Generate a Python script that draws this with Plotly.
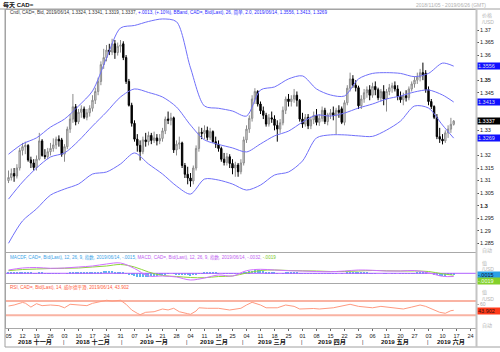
import plotly.graph_objects as go
import pandas as pd

W, H = 500, 352

# ---------------- data ----------------
dates = pd.bdate_range("2018-11-05", "2019-06-14")  # trading days (weekdays)

open_ = [1.3100, 1.3112, 1.3128, 1.3118, 1.3150, 1.3220, 1.3235, 1.3240, 1.3182, 1.3170,
         1.3152, 1.3185, 1.3258, 1.3200, 1.3195, 1.3215, 1.3228, 1.3242, 1.3265, 1.3262,
         1.3205, 1.3235, 1.3305, 1.3345, 1.3394, 1.3334, 1.3372, 1.3385, 1.3352, 1.3370,
         1.3388, 1.3420, 1.3455, 1.3495, 1.3562, 1.3590, 1.3620, 1.3612, 1.3645, 1.3610,
         1.3635, 1.3645, 1.3590, 1.3495, 1.3400, 1.3328, 1.3265, 1.3240, 1.3215, 1.3262,
         1.3255, 1.3280, 1.3260, 1.3270, 1.3258, 1.3268, 1.3298, 1.3345, 1.3340, 1.3350,
         1.3222, 1.3245, 1.3250, 1.3160, 1.3125, 1.3110, 1.3098, 1.3150, 1.3228, 1.3292,
         1.3288, 1.3300, 1.3272, 1.3295, 1.3255, 1.3245, 1.3228, 1.3185, 1.3172, 1.3195,
         1.3168, 1.3150, 1.3162, 1.3135, 1.3170, 1.3262, 1.3305, 1.3348, 1.3425, 1.3455,
         1.3405, 1.3378, 1.3360, 1.3325, 1.3350, 1.3345, 1.3320, 1.3305, 1.3330, 1.3380,
         1.3425, 1.3415, 1.3425, 1.3440, 1.3420, 1.3345, 1.3325, 1.3352, 1.3318, 1.3342,
         1.3360, 1.3332, 1.3348, 1.3380, 1.3335, 1.3362, 1.3370, 1.3358, 1.3380, 1.3386,
         1.3332, 1.3410, 1.3468, 1.3505, 1.3480, 1.3470, 1.3398, 1.3425, 1.3450, 1.3462,
         1.3440, 1.3475, 1.3462, 1.3430, 1.3455, 1.3425, 1.3455, 1.3470, 1.3478, 1.3465,
         1.3435, 1.3422, 1.3438, 1.3430, 1.3465, 1.3485, 1.3500, 1.3512, 1.3530, 1.3528,
         1.3462, 1.3415, 1.3395, 1.3352, 1.3275, 1.3265, 1.3258, 1.3290, 1.3305, 1.3324]
high = [1.3140, 1.3148, 1.3150, 1.3165, 1.3230, 1.3250, 1.3255, 1.3245, 1.3195, 1.3185,
        1.3200, 1.3290, 1.3265, 1.3225, 1.3230, 1.3250, 1.3268, 1.3275, 1.3280, 1.3270,
        1.3245, 1.3315, 1.3365, 1.3445, 1.3405, 1.3385, 1.3400, 1.3395, 1.3385, 1.3400,
        1.3440, 1.3470, 1.3510, 1.3575, 1.3625, 1.3640, 1.3645, 1.3665, 1.3660, 1.3650,
        1.3660, 1.3655, 1.3600, 1.3505, 1.3410, 1.3340, 1.3285, 1.3260, 1.3275, 1.3290,
        1.3295, 1.3290, 1.3295, 1.3285, 1.3285, 1.3310, 1.3355, 1.3375, 1.3370, 1.3355,
        1.3260, 1.3275, 1.3255, 1.3170, 1.3155, 1.3130, 1.3160, 1.3240, 1.3315, 1.3310,
        1.3320, 1.3315, 1.3310, 1.3300, 1.3275, 1.3260, 1.3235, 1.3210, 1.3210, 1.3205,
        1.3185, 1.3175, 1.3170, 1.3185, 1.3275, 1.3320, 1.3360, 1.3440, 1.3468, 1.3460,
        1.3415, 1.3395, 1.3370, 1.3365, 1.3375, 1.3360, 1.3340, 1.3345, 1.3395, 1.3435,
        1.3445, 1.3440, 1.3465, 1.3455, 1.3425, 1.3370, 1.3365, 1.3365, 1.3355, 1.3375,
        1.3385, 1.3365, 1.3395, 1.3390, 1.3370, 1.3385, 1.3395, 1.3390, 1.3400, 1.3395,
        1.3420, 1.3480, 1.3530, 1.3520, 1.3500, 1.3478, 1.3440, 1.3465, 1.3475, 1.3480,
        1.3490, 1.3495, 1.3470, 1.3465, 1.3480, 1.3465, 1.3485, 1.3490, 1.3495, 1.3480,
        1.3455, 1.3450, 1.3460, 1.3475, 1.3495, 1.3515, 1.3530, 1.3545, 1.3570, 1.3540,
        1.3475, 1.3425, 1.3400, 1.3365, 1.3310, 1.3285, 1.3300, 1.3320, 1.3350, 1.3341]
low = [1.3090, 1.3100, 1.3095, 1.3108, 1.3140, 1.3200, 1.3205, 1.3175, 1.3150, 1.3140,
       1.3140, 1.3180, 1.3195, 1.3185, 1.3185, 1.3200, 1.3215, 1.3225, 1.3235, 1.3195,
       1.3175, 1.3225, 1.3290, 1.3330, 1.3320, 1.3325, 1.3350, 1.3345, 1.3340, 1.3355,
       1.3375, 1.3405, 1.3440, 1.3480, 1.3545, 1.3575, 1.3600, 1.3600, 1.3585, 1.3598,
       1.3610, 1.3580, 1.3485, 1.3395, 1.3315, 1.3255, 1.3215, 1.3180, 1.3205, 1.3235,
       1.3240, 1.3245, 1.3250, 1.3240, 1.3245, 1.3255, 1.3285, 1.3325, 1.3320, 1.3210,
       1.3200, 1.3225, 1.3150, 1.3110, 1.3085, 1.3075, 1.3085, 1.3140, 1.3215, 1.3265,
       1.3265, 1.3260, 1.3262, 1.3250, 1.3230, 1.3215, 1.3175, 1.3160, 1.3160, 1.3150,
       1.3125, 1.3115, 1.3115, 1.3125, 1.3160, 1.3250, 1.3290, 1.3335, 1.3405, 1.3395,
       1.3365, 1.3345, 1.3315, 1.3315, 1.3330, 1.3300, 1.3255, 1.3290, 1.3320, 1.3365,
       1.3395, 1.3395, 1.3410, 1.3395, 1.3335, 1.3310, 1.3315, 1.3305, 1.3305, 1.3325,
       1.3320, 1.3318, 1.3335, 1.3325, 1.3320, 1.3345, 1.3340, 1.3285, 1.3350, 1.3325,
       1.3320, 1.3400, 1.3455, 1.3470, 1.3455, 1.3385, 1.3385, 1.3410, 1.3430, 1.3420,
       1.3430, 1.3440, 1.3420, 1.3415, 1.3400, 1.3375, 1.3440, 1.3450, 1.3455, 1.3420,
       1.3410, 1.3400, 1.3415, 1.3420, 1.3455, 1.3470, 1.3485, 1.3495, 1.3500, 1.3450,
       1.3400, 1.3385, 1.3345, 1.3265, 1.3250, 1.3244, 1.3250, 1.3270, 1.3290, 1.3319]
close = [1.3112, 1.3128, 1.3118, 1.3150, 1.3220, 1.3235, 1.3240, 1.3182, 1.3170, 1.3152,
         1.3185, 1.3258, 1.3200, 1.3195, 1.3215, 1.3228, 1.3242, 1.3265, 1.3258, 1.3205,
         1.3235, 1.3305, 1.3345, 1.3394, 1.3334, 1.3372, 1.3385, 1.3352, 1.3370, 1.3388,
         1.3420, 1.3455, 1.3495, 1.3562, 1.3590, 1.3620, 1.3612, 1.3645, 1.3610, 1.3635,
         1.3640, 1.3590, 1.3495, 1.3400, 1.3328, 1.3265, 1.3240, 1.3215, 1.3262, 1.3255,
         1.3280, 1.3260, 1.3270, 1.3258, 1.3268, 1.3298, 1.3345, 1.3340, 1.3350, 1.3222,
         1.3245, 1.3250, 1.3160, 1.3125, 1.3110, 1.3098, 1.3150, 1.3228, 1.3292, 1.3288,
         1.3300, 1.3272, 1.3295, 1.3255, 1.3245, 1.3228, 1.3185, 1.3172, 1.3195, 1.3168,
         1.3150, 1.3162, 1.3135, 1.3170, 1.3262, 1.3305, 1.3348, 1.3425, 1.3455, 1.3405,
         1.3378, 1.3360, 1.3325, 1.3350, 1.3345, 1.3320, 1.3305, 1.3330, 1.3380, 1.3425,
         1.3415, 1.3425, 1.3440, 1.3420, 1.3345, 1.3325, 1.3352, 1.3318, 1.3342, 1.3360,
         1.3332, 1.3348, 1.3380, 1.3335, 1.3362, 1.3370, 1.3358, 1.3380, 1.3372, 1.3332,
         1.3410, 1.3468, 1.3505, 1.3480, 1.3470, 1.3398, 1.3425, 1.3450, 1.3462, 1.3440,
         1.3475, 1.3462, 1.3430, 1.3455, 1.3425, 1.3455, 1.3470, 1.3478, 1.3465, 1.3435,
         1.3422, 1.3438, 1.3430, 1.3465, 1.3485, 1.3500, 1.3512, 1.3530, 1.3520, 1.3462,
         1.3415, 1.3395, 1.3352, 1.3275, 1.3265, 1.3258, 1.3290, 1.3305, 1.3324, 1.3337]

# Bollinger band (26, 2.0) at each Monday + last day
band_days = [0, 5, 10, 15, 20, 25, 30, 35, 40, 45, 50, 55, 60, 65, 70, 75, 80,
             85, 90, 95, 100, 105, 110, 115, 120, 125, 130, 135, 140, 145, 150, 155, 159]
bb_upper = [1.3205, 1.3246, 1.3270, 1.3313, 1.3345, 1.3397, 1.3457, 1.3588, 1.3708, 1.3718,
            1.3734, 1.3744, 1.3733, 1.3549, 1.3397, 1.3388, 1.3377, 1.3357, 1.3461, 1.3473,
            1.3505, 1.3517, 1.3465, 1.3441, 1.3437, 1.3505, 1.3527, 1.3530, 1.3527, 1.3514,
            1.3527, 1.3568, 1.3556]
bb_mid = [1.3026, 1.3094, 1.3150, 1.3194, 1.3210, 1.3258, 1.3317, 1.3373, 1.3433, 1.3465,
          1.3451, 1.3433, 1.3393, 1.3321, 1.3262, 1.3244, 1.3230, 1.3214, 1.3246, 1.3278,
          1.3297, 1.3333, 1.3361, 1.3357, 1.3369, 1.3389, 1.3405, 1.3425, 1.3437, 1.3453,
          1.3461, 1.3441, 1.3413]
bb_lower = [1.2850, 1.2939, 1.2987, 1.3042, 1.3066, 1.3086, 1.3126, 1.3134, 1.3166, 1.3210,
            1.3166, 1.3126, 1.3078, 1.3046, 1.3106, 1.3102, 1.3086, 1.3062, 1.3082, 1.3122,
            1.3134, 1.3178, 1.3270, 1.3282, 1.3282, 1.3278, 1.3276, 1.3301, 1.3337, 1.3397,
            1.3389, 1.3321, 1.3269]

# MACD (12, 26, 9)
macd_line = [0.0033, 0.0053, 0.0058, 0.0050, 0.0053, 0.0063, 0.0073, 0.0093, 0.0103, 0.0048,
             -0.0027, -0.0027, -0.0037, -0.0067, -0.0047, -0.0017, -0.0027, 0.0026, 0.0040, 0.0033,
             0.0026, 0.0023, 0.0018, 0.0016, 0.0023, 0.0033, 0.0030, 0.0023, 0.0023, 0.0028,
             0.0005, -0.0030, -0.0032]
macd_signal = [0.0026, 0.0038, 0.0043, 0.0048, 0.0050, 0.0053, 0.0063, 0.0073, 0.0088, 0.0063,
               0.0013, -0.0022, -0.0032, -0.0042, -0.0044, -0.0032, -0.0027, 0.0003, 0.0028, 0.0033,
               0.0028, 0.0025, 0.0023, 0.0018, 0.0018, 0.0023, 0.0028, 0.0025, 0.0023, 0.0023,
               0.0018, -0.0005, -0.0019]
macd_hist = [0.0008, 0.0009, 0.0008, 0.0008, 0.0012, 0.0014, 0.0013, 0.0008, 0.0005, 0.0003,
             0.0003, 0.0006, 0.0004, 0.0002, 0.0002, 0.0001, 0.0002, 0.0003, 0.0003, 0.0000,
             0.0000, 0.0003, 0.0006, 0.0009, 0.0006, 0.0007, 0.0008, 0.0006, 0.0006, 0.0006,
             0.0008, 0.0010, 0.0013, 0.0018, 0.0021, 0.0022, 0.0021, 0.0021, 0.0017, 0.0016,
             0.0014, 0.0009, 0.0001, -0.0010, -0.0021, -0.0030, -0.0036, -0.0040, -0.0038, -0.0036,
             -0.0034, -0.0030, -0.0027, -0.0024, -0.0020, -0.0015, -0.0008, -0.0004, 0.0000, -0.0006,
             -0.0008, -0.0009, -0.0014, -0.0018, -0.0021, -0.0022, -0.0018, -0.0010, -0.0002, 0.0002,
             0.0005, 0.0006, 0.0007, 0.0006, 0.0005, 0.0003, 0.0000, -0.0002, -0.0002, -0.0003,
             -0.0004, -0.0004, -0.0005, -0.0003, 0.0005, 0.0012, 0.0019, 0.0028, 0.0034, 0.0033,
             0.0029, 0.0024, 0.0018, 0.0014, 0.0010, 0.0005, 0.0001, 0.0000, 0.0003, 0.0006,
             0.0007, 0.0007, 0.0007, 0.0006, 0.0001, -0.0003, -0.0004, -0.0006, -0.0006, -0.0005,
             -0.0006, -0.0005, -0.0003, -0.0004, -0.0003, -0.0002, -0.0002, -0.0001, 0.0000, -0.0002,
             0.0000, 0.0005, 0.0010, 0.0011, 0.0011, 0.0006, 0.0005, 0.0005, 0.0005, 0.0003,
             0.0003, 0.0002, 0.0000, 0.0000, -0.0001, -0.0001, 0.0000, 0.0001, 0.0001, 0.0000,
             -0.0002, -0.0002, -0.0003, -0.0001, 0.0001, 0.0003, 0.0005, 0.0007, 0.0008, 0.0005,
             0.0000, -0.0005, -0.0010, -0.0017, -0.0022, -0.0025, -0.0024, -0.0021, -0.0018, -0.0015]

# RSI (14)
rsi_days = [0, 2, 5, 6, 8, 10, 12, 15, 18, 20, 22, 25, 28, 30, 33, 35, 37, 40, 42, 44,
            46, 47, 49, 52, 55, 57, 59, 61, 64, 65, 67, 68, 71, 73, 75, 79, 83, 85, 87, 90,
            92, 96, 99, 102, 104, 109, 111, 116, 122, 125, 130, 133, 137, 141, 144, 147,
            149, 152, 154, 156, 158, 159]
rsi_vals = [56.0, 58.8, 66.0, 64.0, 53.0, 62.5, 57.0, 58.8, 57.0, 51.0, 60.8, 58.8, 57.0, 63.5,
            68.0, 72.0, 70.0, 72.0, 60.8, 44.8, 35.6, 31.7, 38.4, 40.0, 47.6, 45.0, 49.6, 40.0,
            34.5, 32.8, 42.0, 51.0, 49.6, 48.8, 49.6, 44.8, 49.6, 58.8, 66.4, 58.8, 51.0, 51.0,
            58.8, 55.0, 47.6, 49.0, 47.6, 51.0, 60.8, 55.0, 51.0, 55.0, 51.0, 47.6, 53.0, 58.8,
            55.0, 45.7, 38.4, 35.6, 43.0, 43.9]

tick_labels = ["05", "12", "19", "26", "03", "10", "17", "24", "31", "07", "14", "21", "28",
               "04", "11", "18", "25", "04", "11", "18", "25", "01", "08", "15", "22", "29",
               "06", "13", "20", "27", "03", "10", "17", "24"]
month_labels = ["2018 十一月", "2018 十二月", "2019 一月", "2019 二月", "2019 三月",
                "2019 四月", "2019 五月", "2019 六月"]
# price-axis labels (those hidden under the value flags are left out)
price_ticks = [1.285, 1.29, 1.295, 1.3, 1.305, 1.31, 1.315, 1.32, 1.33,
               1.345, 1.35, 1.36, 1.365, 1.37]

# ---------------- geometry helpers ----------------
def fx(px):
    return px / W

def fy(px):
    return 1 - px / H

PX_PER_DAY = 2.8
X0_PX = 8.5          # pixel centre of first candle
PL, PR = 6, 476      # plot area left/right pixels

def day_from_px(px):
    return (px - X0_PX) / PX_PER_DAY

xr = [day_from_px(PL), day_from_px(PR)]
xs = list(range(len(dates)))

def price_at(px):
    return 1.37 - (px - 30) / 2509.0

main_top, main_bot = 10, 252
macd_top, macd_bot = 253, 283
rsi_top, rsi_bot = 284, 328

font_main = "Liberation Sans, Arial, Noto Sans CJK SC, sans-serif"

fig = go.Figure()

fig.add_trace(go.Candlestick(
    x=xs, open=open_, high=high, low=low, close=close,
    increasing=dict(line=dict(color="#8a8a8a", width=1), fillcolor="#e4e4e4"),
    decreasing=dict(line=dict(color="#000000", width=1), fillcolor="#000000"),
    whiskerwidth=0, xaxis="x", yaxis="y", showlegend=False, hoverinfo="skip"))

band_col = "rgb(112,112,250)"
for arr in (bb_upper, bb_mid, bb_lower):
    fig.add_trace(go.Scatter(x=band_days, y=arr, mode="lines",
                             line=dict(color=band_col, width=1, shape="spline", smoothing=0.8),
                             xaxis="x", yaxis="y", showlegend=False, hoverinfo="skip"))

# MACD panel
fig.add_trace(go.Bar(x=xs, y=macd_hist, marker=dict(color="#5fb4ee", line=dict(width=0)),
                     width=0.38, xaxis="x2", yaxis="y2", showlegend=False, hoverinfo="skip"))
fig.add_trace(go.Scatter(x=[xr[0], xr[1]], y=[0, 0], mode="lines",
                         line=dict(color="#b060ff", width=1), xaxis="x2", yaxis="y2",
                         showlegend=False, hoverinfo="skip"))
fig.add_trace(go.Scatter(x=band_days, y=macd_signal, mode="lines",
                         line=dict(color="#8fd63a", width=1, shape="spline"),
                         xaxis="x2", yaxis="y2", showlegend=False, hoverinfo="skip"))
fig.add_trace(go.Scatter(x=band_days, y=macd_line, mode="lines",
                         line=dict(color="#d070ff", width=1, shape="spline"),
                         xaxis="x2", yaxis="y2", showlegend=False, hoverinfo="skip"))

# RSI panel
for lvl in (70, 30):
    fig.add_trace(go.Scatter(x=[xr[0], xr[1]], y=[lvl, lvl], mode="lines",
                             line=dict(color="#f9b3a3", width=2), xaxis="x3", yaxis="y3",
                             showlegend=False, hoverinfo="skip"))
fig.add_trace(go.Scatter(x=rsi_days, y=rsi_vals, mode="lines",
                         line=dict(color="#ff9a80", width=1), xaxis="x3", yaxis="y3",
                         showlegend=False, hoverinfo="skip"))

ax_common = dict(range=xr, showgrid=False, zeroline=False, showline=True, mirror=True,
                 linecolor="#a8a8a8", linewidth=1, fixedrange=True)
tick_pos = [i * 5 for i in range(len(tick_labels))]

price_text = []
for v in price_ticks:
    s = ("%.3f" % v).rstrip("0").rstrip(".")
    if abs(v - 1.3) < 1e-9 or abs(v - 1.35) < 1e-9:
        s = "<b>%s</b>" % s
    price_text.append(s)

fig.update_layout(
    width=W, height=H, margin=dict(l=0, r=0, t=0, b=0),
    paper_bgcolor="white", plot_bgcolor="white",
    font=dict(family=font_main, size=5, color="#222"),
    bargap=0,
    xaxis=dict(domain=[fx(PL), fx(PR)], anchor="y", showticklabels=False,
               rangeslider=dict(visible=False), ticks="", **ax_common),
    xaxis2=dict(domain=[fx(PL), fx(PR)], anchor="y2", showticklabels=False, ticks="", **ax_common),
    xaxis3=dict(domain=[fx(PL), fx(PR)], anchor="y3", tickmode="array", tickvals=tick_pos,
                ticktext=tick_labels, ticks="outside", ticklen=2, tickcolor="#666",
                tickfont=dict(size=5.6, color="#222"), **ax_common),
    yaxis=dict(domain=[fy(main_bot), fy(main_top)], anchor="x", side="right",
               range=[price_at(main_bot), price_at(main_top)], tickmode="array",
               tickvals=price_ticks, ticktext=price_text, ticks="outside", ticklen=2,
               tickcolor="#555", tickfont=dict(size=5.5, color="#222"), showgrid=False,
               zeroline=False, showline=True, mirror=True, linecolor="#a8a8a8", fixedrange=True),
    yaxis2=dict(domain=[fy(macd_bot), fy(macd_top)], anchor="x2", side="right",
                range=[-(macd_bot - 273.3) * 0.001, (273.3 - macd_top) * 0.001],
                showticklabels=False, ticks="", showgrid=False, zeroline=False,
                showline=True, mirror=True, linecolor="#a8a8a8", fixedrange=True),
    yaxis3=dict(domain=[fy(rsi_bot), fy(rsi_top)], anchor="x3", side="right",
                range=[30 - (rsi_bot - 315.3) / 0.3575, 30 + (315.3 - rsi_top) / 0.3575],
                tickmode="array", tickvals=[60], ticks="outside", ticklen=2,
                tickcolor="#aaa", tickfont=dict(size=5, color="#aaa"), showgrid=False,
                zeroline=False, showline=True, mirror=True, linecolor="#a8a8a8", fixedrange=True),
)

ann = []
def add_text(x_px, y_px, text, size=5, color="#222", xanchor="left", **kw):
    ann.append(dict(x=fx(x_px), y=fy(y_px), xref="paper", yref="paper", text=text,
                    showarrow=False, xanchor=xanchor, yanchor="middle",
                    font=dict(size=size, color=color, family=font_main), **kw))

add_text(1, 4.5, "<b>每天 CAD=</b>", size=6, color="#111")
add_text(488, 4.5, "2018/11/05 - 2019/06/26 (GMT)", size=5, color="#b0b0b0", xanchor="right")

blue = "#2a2aff"
main_leg = ("Cndl, CAD=, Bid, 2019/06/14, %.4f, %.4f, %.4f, %.4f, " % (open_[-1], high[-1], low[-1], close[-1])
            + "<span style='color:%s'>+.0013, (+.10%%), BBand, CAD=, Bid(Last), 26, 简单, 2.0, 2019/06/14, %.4f, %.4f, %.4f</span>"
            % (blue, bb_upper[-1], bb_mid[-1], bb_lower[-1]))
add_text(8, 12.5, main_leg, size=4.6, color="#333")

macd_leg = ("<span style='color:#3ca4e8'>MACDF, CAD=, Bid(Last), 12, 26, 9, 指数, 2019/06/14, %s, </span>"
            "<span style='color:#c060f0'>MACD, CAD=, Bid(Last), 12, 26, 9, 指数, 2019/06/14, %s, </span>"
            "<span style='color:#7cc82c'>%s</span>") % ("-.0015", "-.0032", "-.0019")
add_text(8, 257.5, macd_leg, size=4.6)
add_text(8, 287, "RSI, CAD=, Bid(Last), 14, 威尔德平滑, 2019/06/14, 43.902", size=4.6, color="#ff5a3a")

gray = "#b4b4b4"
add_text(480, 15.5, "价格", size=5, color=gray)
add_text(480, 22, "/USD", size=5, color=gray)
add_text(480, 251, "自动", size=5, color=gray)
add_text(480, 263, "值", size=5, color=gray)
add_text(480, 268.5, "/USD", size=5, color=gray)
add_text(480, 292, "值", size=5, color=gray)
add_text(480, 298.5, "/USD", size=5, color=gray)
add_text(480, 325, "自动", size=5, color=gray)

def flag(y_px, text, bg, fg):
    ann.append(dict(x=fx(477), y=fy(y_px), xref="paper", yref="paper", text=text,
                    showarrow=False, xanchor="left", yanchor="middle", align="left",
                    width=22, height=6, bgcolor=bg, borderpad=0,
                    font=dict(size=5.5, color=fg, family=font_main)))

def ypx_price(v):
    return 30 + (1.37 - v) * 2509.0

flag(ypx_price(bb_upper[-1]), "%.4f" % bb_upper[-1], "#1010ff", "#dde")
flag(ypx_price(bb_mid[-1]), "%.4f" % bb_mid[-1], "#1010ff", "#dde")
flag(ypx_price(close[-1]), "%.4f" % close[-1], "#000000", "#ffffff")
flag(ypx_price(bb_lower[-1]), "%.4f" % bb_lower[-1], "#1010ff", "#dde")
flag(274.8, "-.0015", "#2aa0e6", "#113")
flag(281.2, "-.0019", "#84d02a", "#efe")
flag(310.7, "43.902", "#ff3a1a", "#311")

month_starts = [0, 20, 41, 64, 84, 105, 127, 150]
month_ends = month_starts[1:] + [xr[1]]
for lab, s, e in zip(month_labels, month_starts, month_ends):
    ann.append(dict(x=(s + e - 1) / 2.0, y=fy(342), xref="x3", yref="paper", text="<b>%s</b>" % lab,
                    showarrow=False, xanchor="center", yanchor="middle",
                    font=dict(size=6.2, color="#111", family=font_main)))
for s in month_starts[1:]:
    ann.append(dict(x=s - 0.5, y=fy(342), xref="x3", yref="paper", text="|",
                    showarrow=False, xanchor="center", yanchor="middle",
                    font=dict(size=5.5, color="#333", family=font_main)))

fig.update_layout(annotations=ann)

shapes = []
line_gray = dict(color="#a0a0a0", width=1)
shapes.append(dict(type="line", xref="paper", yref="paper", x0=0, x1=1, y0=fy(9), y1=fy(9), line=line_gray))
shapes.append(dict(type="line", xref="paper", yref="paper", x0=fx(5), x1=fx(5), y0=fy(9), y1=fy(347), line=line_gray))
shapes.append(dict(type="line", xref="paper", yref="paper", x0=fx(5), x1=1, y0=fy(347), y1=fy(347), line=line_gray))
shapes.append(dict(type="line", xref="paper", yref="paper", x0=fx(476.5), x1=fx(476.5), y0=fy(9), y1=fy(347),
                   line=dict(color="#c4c4c4", width=2)))
fig.update_layout(shapes=shapes)

fig.write_html("out.html")
